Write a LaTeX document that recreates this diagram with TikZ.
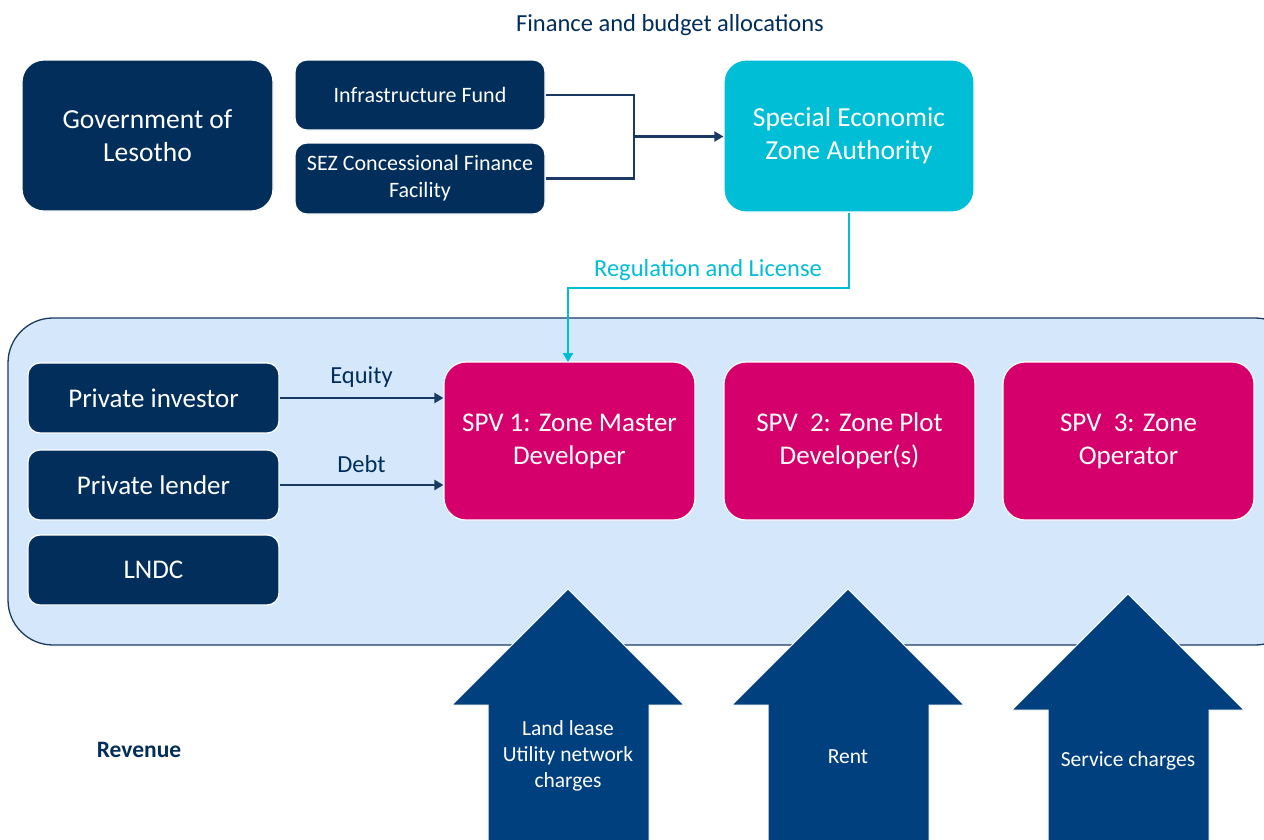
\documentclass[tikz,border=0pt]{standalone}
\usepackage{fontspec}
\setmainfont{Carlito}
\usetikzlibrary{arrows.meta}
\definecolor{navy}{HTML}{022E5C}
\definecolor{linenavy}{HTML}{1B3A63}
\definecolor{zonefill}{HTML}{D5E8FB}
\definecolor{cyanbox}{HTML}{00BED6}
\definecolor{magbox}{HTML}{D5006C}
\definecolor{revarrow}{HTML}{00407F}
\tikzset{
  navybox/.style={fill=navy, draw=white, line width=1.2pt, rounded corners=12pt, text=white, align=center, inner sep=0pt},
  bigbox/.style={rounded corners=22pt, align=center, inner sep=0pt, text=white, draw=white, line width=1.2pt},
  flow/.style={draw=linenavy, line width=2.6pt, -{Triangle[length=9pt,width=10pt]}},
  flowplain/.style={draw=linenavy, line width=2.6pt},
  regline/.style={draw=cyanbox, line width=2.4pt},
  revtext/.style={text=white, font=\fontsize{21.5}{26}\selectfont, align=center},
  labeltext/.style={font=\fontsize{24.5}{28}\selectfont},
}
\begin{document}
\begin{tikzpicture}[x=1pt,y=-1pt]
\useasboundingbox (0,0) rectangle (1264,839);
\fill[white] (0,0) rectangle (1264,839);

% zone panel
\draw[fill=zonefill, draw=linenavy, line width=1.3pt, rounded corners=45pt]
  (8,318) rectangle (1300,645);

% revenue arrows, their heads lying over the panel
\foreach \cx/\ty/\by in {568/589/705, 848/589/705, 1128/594/710}{
  \fill[revarrow, draw=white, line width=1pt]
    (\cx,\ty) -- (\cx+116,\by) -- (\cx+81,\by) -- (\cx+81,845)
    -- (\cx-80,845) -- (\cx-80,\by) -- (\cx-116,\by) -- cycle;
}
\node[revtext] (rev1) at (568,756) {Land lease\\Utility network\\charges};
\node[revtext] (rev2) at (848,757) {Rent};
\node[revtext] (rev3) at (1128,761) {Service charges};

\node[labeltext, text=navy] (title) at (670,25) {Finance and budget allocations};
\node[text=navy, font=\fontsize{23.5}{28}\selectfont\bfseries] (revenue) at (139,750) {Revenue};

% government side
\node[bigbox, fill=navy, minimum width=251pt, minimum height=151pt,
      font=\fontsize{27.5}{33}\selectfont] (gov) at (147.5,135.5) {Government of\\Lesotho};
\node[navybox, minimum width=250pt, minimum height=70pt,
      font=\fontsize{22}{27}\selectfont] (infra) at (420,95) {Infrastructure Fund};
\node[navybox, minimum width=250pt, minimum height=71pt,
      font=\fontsize{22}{27}\selectfont] (sez) at (420,178.5) {SEZ Concessional Finance\\Facility};
\node[bigbox, fill=cyanbox, minimum width=250pt, minimum height=152pt,
      font=\fontsize{27.5}{33}\selectfont] (auth) at (849,136) {Special Economic\\Zone Authority};

\coordinate (join) at (634,136.5);
\draw[flowplain] (infra.east) -| (join);
\draw[flowplain] (sez.east) -| (join);
\draw[flow] (join) -- (auth.west |- join);

% zone members
\node[navybox, minimum width=251pt, minimum height=70pt,
      font=\fontsize{27}{32}\selectfont] (inv) at (153.5,398) {Private investor};
\node[navybox, minimum width=251pt, minimum height=70pt,
      font=\fontsize{27}{32}\selectfont] (lend) at (153.5,485) {Private lender};
\node[navybox, minimum width=251pt, minimum height=70pt,
      font=\fontsize{27}{32}\selectfont] (lndc) at (153.5,570) {LNDC};

\node[bigbox, fill=magbox, minimum width=251pt, minimum height=158pt,
      font=\fontsize{27}{33}\selectfont] (spv1) at (569.5,441) {SPV 1: Zone Master\\Developer};
\node[bigbox, fill=magbox, minimum width=251pt, minimum height=158pt,
      font=\fontsize{27}{33}\selectfont] (spv2) at (849.5,441) {SPV\ \ 2: Zone Plot\\Developer(s)};
\node[bigbox, fill=magbox, minimum width=251pt, minimum height=158pt,
      font=\fontsize{27}{33}\selectfont] (spv3) at (1128.5,441) {SPV\ \ 3: Zone\\Operator};

\draw[flow] (inv.east) -- (spv1.west |- inv.east)
  node[midway, above=6pt, text=navy, labeltext] (eq) {Equity};
\draw[flow] (lend.east) -- (spv1.west |- lend.east)
  node[midway, above=8pt, text=navy, labeltext] (debt) {Debt};

% regulation line
\coordinate (regturn) at (849,288);
\draw[regline, -{Triangle[length=9pt,width=10pt]}]
  (auth.south) -- (regturn) -- (568,288) -- (568,362);
\node[labeltext, text=cyanbox] (reglab) at (708,270) {Regulation and License};
\end{tikzpicture}
\end{document}
